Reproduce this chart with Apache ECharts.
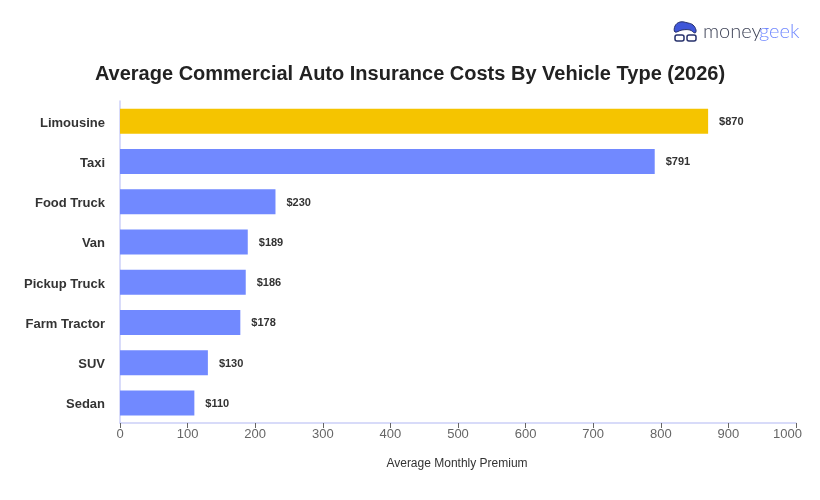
<!DOCTYPE html>
<html>
<head>
<meta charset="utf-8">
<style>html,body{margin:0;padding:0;background:#fff}#chart{width:820px;height:500px}</style>
<script src="https://cdn.jsdelivr.net/npm/echarts@6/dist/echarts.min.js"></script>
</head>
<body>
<div id="chart"></div>
<script>
// Monthly premium by vehicle type, most expensive first
const categories = ['Limousine', 'Taxi', 'Food Truck', 'Van', 'Pickup Truck', 'Farm Tractor', 'SUV', 'Sedan'];
const premiums = [870, 791, 230, 189, 186, 178, 130, 110];
const highlighted = 'Limousine';
const chartTitle = 'Average Commercial Auto Insurance Costs By Vehicle Type (2026)';
const axisTitle = 'Average Monthly Premium';

const font = '"Liberation Sans", Arial, sans-serif';
const ink = '#26306b';
const axisLineColor = '#ccd0f8';
const chart = echarts.init(document.getElementById('chart'), null, {renderer: 'canvas'});

chart.setOption({
  animation: false,
  backgroundColor: '#fff',
  textStyle: {fontFamily: font},
  title: {
    text: chartTitle,
    left: 405,
    top: 59,
    textAlign: 'center',
    textStyle: {fontFamily: font, fontSize: 20, fontWeight: 'bold', color: '#222'}
  },
  grid: {left: 120, right: 24, top: 101, bottom: 77},
  xAxis: {
    type: 'value',
    min: 0,
    max: 1000,
    interval: 100,
    name: axisTitle,
    nameLocation: 'middle',
    nameGap: 35,
    nameTextStyle: {fontFamily: font, fontSize: 12, color: '#333', padding: [0, 2, 0, 0]},
    axisLine: {show: true, lineStyle: {color: axisLineColor, width: 1.5}},
    axisTick: {show: true, length: 5, lineStyle: {color: '#666'}},
    axisLabel: {
      fontFamily: font,
      fontSize: 13,
      color: '#666',
      margin: 5,
      // the last label sits inside the plot's right edge
      formatter: v => v === 1000 ? '{last|1000}' : String(v),
      rich: {last: {fontFamily: font, fontSize: 13, color: '#666', padding: [0, 17, 0, 0]}}
    },
    splitLine: {show: false}
  },
  yAxis: {
    type: 'category',
    inverse: true,
    data: categories,
    axisLine: {show: true, lineStyle: {color: axisLineColor, width: 1.5}},
    axisTick: {show: false},
    axisLabel: {
      fontFamily: font,
      fontSize: 13,
      fontWeight: 'bold',
      color: '#333',
      margin: 15,
      formatter: v => '{c|' + v + '}',
      rich: {c: {fontFamily: font, fontSize: 13, fontWeight: 'bold', color: '#333', padding: [4, 0, 0, 0]}}
    }
  },
  series: [{
    type: 'bar',
    barWidth: 25,
    data: categories.map((name, i) => ({
      value: premiums[i],
      itemStyle: {color: name === highlighted ? '#f5c400' : '#7189ff'}
    })),
    label: {
      show: true,
      position: 'right',
      distance: 11,
      offset: [0, 1],
      formatter: p => '$' + p.value,
      fontFamily: font,
      fontSize: 11,
      fontWeight: 'bold',
      color: '#333'
    }
  }],
  // moneygeek wordmark with its small head icon
  graphic: [
    {type: 'polygon', shape: {smooth: 0.4, points: [[675, 32], [675, 26], [680, 22], [688, 23], [693, 25], [696, 30], [695, 33], [690, 30], [682, 30]]},
      style: {fill: '#3f56d8', stroke: ink, lineWidth: 1}},
    {type: 'rect', shape: {x: 675, y: 35, width: 9, height: 6, r: 2},
      style: {fill: '#fff', stroke: ink, lineWidth: 1.5}},
    {type: 'rect', shape: {x: 687, y: 35, width: 9, height: 6, r: 2},
      style: {fill: '#fff', stroke: ink, lineWidth: 1.5}},
    {type: 'text', style: {x: 703, y: 22, text: 'money', fill: '#3f4458',
      font: '300 20px Lato, sans-serif'}},
    {type: 'text', style: {x: 759, y: 22, text: 'geek', fill: '#7189ff',
      font: '300 20px Lato, sans-serif'}}
  ]
});
</script>
</body>
</html>
